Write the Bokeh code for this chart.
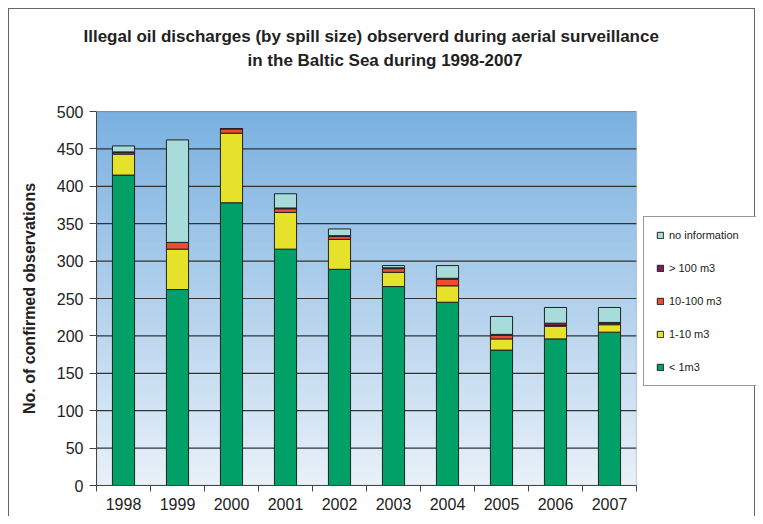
import numpy as np
from bokeh.plotting import figure
from bokeh.models import Legend, LegendItem, FixedTicker, Range1d, Title, BoxAnnotation
from bokeh.embed import file_html
from bokeh.resources import INLINE

years = ["1998", "1999", "2000", "2001", "2002", "2003", "2004", "2005", "2006", "2007"]
lt_1 = [415, 262, 378, 316, 289, 266, 245, 181, 196, 205]
m_1_10 = [28, 54, 93, 49, 40, 19, 22, 15, 17, 10]
m_10_100 = [2, 9, 6, 5, 4, 5, 9, 5, 1, 2]
gt_100 = [1, 0, 0, 1, 1, 1, 1, 1, 3, 1]
no_info = [8, 137, 0, 19, 9, 3, 17, 24, 21, 20]

series = ["lt_1", "m_1_10", "m_10_100", "gt_100", "no_info"]
series_labels = ["< 1m3", "1-10 m3", "10-100 m3", "> 100 m3", "no information"]
colors = ["#00A066", "#E6E22C", "#EE4B2F", "#7B1F5E", "#A8DCDB"]
y_ticks = list(range(0, 501, 50))
y_max = 500
title_1 = "Illegal oil discharges (by spill size) observerd during aerial surveillance"
title_2 = "in the Baltic Sea during 1998-2007"

ncat = len(years)
xpos = np.arange(ncat) + 0.5
data = dict(x=xpos, lt_1=lt_1, m_1_10=m_1_10, m_10_100=m_10_100, gt_100=gt_100, no_info=no_info)

FONT = "Liberation Sans"
W, H = 747, 508
LEFT, TOP, BOTTOM = 87, 102, 32
PLOT_W = 540  # width of the bar area; frame extends to the right edge to host the legend
frame_w = W - LEFT
x_end = ncat * frame_w / PLOT_W

p = figure(width=W, height=H, output_backend="svg", toolbar_location=None,
           x_range=Range1d(0, x_end), y_range=Range1d(0, y_max),
           min_border_left=LEFT, min_border_right=0, min_border_top=TOP, min_border_bottom=BOTTOM)
p.styles = {"margin-left": "8px", "margin-top": "8px",
            "border-left": "1px solid #666", "border-top": "1px solid #666",
            "border-right": "1px solid #666"}
p.background_fill_color = "white"
p.outline_line_color = None

# gradient background of the bar area
n = 200
t = np.linspace(0, 1, n)[:, None]
bottom_c = np.array([233, 241, 249])
top_c = np.array([122, 177, 225])
rgb = (bottom_c * (1 - t) + top_c * t).astype(np.uint32)
img = np.zeros((n, 1), dtype=np.uint32)
view = img.view(dtype=np.uint8).reshape((n, 1, 4))
view[:, :, 0] = rgb[:, 0:1]
view[:, :, 1] = rgb[:, 1:2]
view[:, :, 2] = rgb[:, 2:3]
view[:, :, 3] = 255
p.image_rgba(image=[img], x=0, y=0, dw=ncat, dh=y_max, level="image")

# horizontal grid lines limited to the bar area
p.xgrid.grid_line_color = None
p.ygrid.grid_line_color = None
p.segment(x0=[0] * len(y_ticks), x1=[ncat] * len(y_ticks), y0=y_ticks, y1=y_ticks,
          line_color="#333333", line_width=1.2, level="underlay")

# outline of the bar area
p.add_layout(BoxAnnotation(left=0, right=ncat, bottom=0, top=y_max, fill_alpha=0,
                           line_color="#8a8a8a", line_width=1.5, level="underlay"))

renderers = p.vbar_stack(series, x="x", width=0.41, source=data, color=colors,
                         line_color="#222222", line_width=1)

p.title.visible = False
spacer = Title(text=" ", text_font_size="15px", standoff=21)
t2 = Title(text=title_2, align="left", offset=151, text_font=FONT, text_font_size="17px",
           text_font_style="bold", text_color="#222222", standoff=4)
t1 = Title(text=title_1, align="left", offset=-13, text_font=FONT, text_font_size="17px",
           text_font_style="bold", text_color="#222222", standoff=2)
p.add_layout(spacer, "above")
p.add_layout(t2, "above")
p.add_layout(t1, "above")

xa = p.xaxis[0]
xa.bounds = (0, ncat)
xa.ticker = FixedTicker(ticks=list(xpos), minor_ticks=list(range(ncat + 1)))
xa.major_label_overrides = {float(v): y for v, y in zip(xpos, years)}
xa.major_tick_line_color = None
xa.minor_tick_in = 0
xa.minor_tick_out = 6
xa.minor_tick_line_color = "#444444"
xa.axis_line_color = "#444444"
xa.major_label_text_font = FONT
xa.major_label_text_font_size = "16px"
xa.major_label_text_color = "#222222"
xa.major_label_standoff = 6

ya = p.yaxis[0]
ya.ticker = FixedTicker(ticks=y_ticks)
ya.major_tick_in = 0
ya.major_tick_out = 7
ya.minor_tick_line_color = None
ya.major_tick_line_color = "#444444"
ya.axis_line_color = "#444444"
ya.major_label_text_font = FONT
ya.major_label_text_font_size = "16px"
ya.major_label_text_color = "#222222"
ya.major_label_standoff = 6
ya.axis_label = "No. of confirmed observations"
ya.axis_label_text_font = FONT
ya.axis_label_text_font_size = "16px"
ya.axis_label_text_font_style = "bold"
ya.axis_label_text_color = "#222222"
ya.axis_label_standoff = 16

items = [LegendItem(label=lab, renderers=[r]) for lab, r in zip(series_labels, renderers)][::-1]
legend = Legend(items=items, location=(547, 99), orientation="vertical",
                glyph_width=8, glyph_height=8, label_height=8, label_width=76, spacing=21,
                padding=12, margin=0, label_standoff=5,
                label_text_font=FONT, label_text_font_size="11px", label_text_color="#222222",
                border_line_color="#333333", border_line_width=1, background_fill_alpha=1)
p.add_layout(legend)

open("out.html", "w").write(file_html(p, INLINE))
